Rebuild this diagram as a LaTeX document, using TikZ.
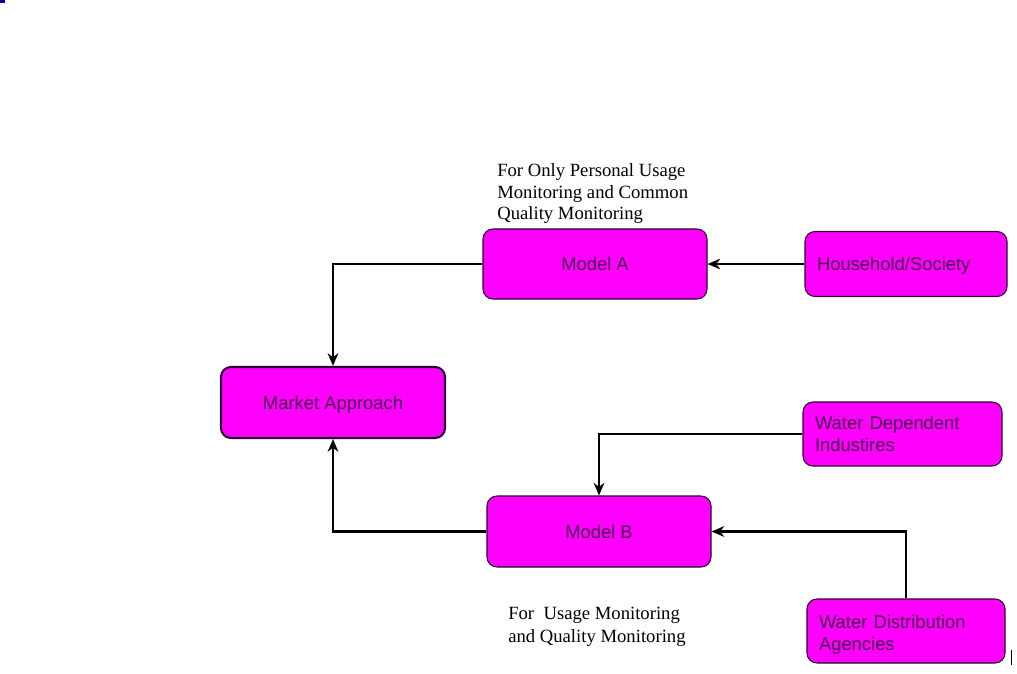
\documentclass[tikz,border=0pt]{standalone}
\usepackage{fontspec}
\setmainfont{Liberation Serif}
\setsansfont{Liberation Sans}
\usetikzlibrary{arrows.meta}

\definecolor{boxfill}{RGB}{255,0,255}
\definecolor{boxline}{RGB}{45,0,50}
\definecolor{boxtext}{RGB}{70,0,75}

\tikzset{
  modelbox/.style={draw=boxline, fill=boxfill, rounded corners=7.5pt, line width=0.8pt,
    text=boxtext, font=\sffamily\fontsize{13.8}{16.5}\selectfont, inner sep=0pt},
  sourcebox/.style={modelbox, align=left, text width=#1},
  flow/.style={line width=1.7pt, -{Stealth[length=9.5pt,width=8pt]}},
  note/.style={anchor=north west, inner sep=0pt, align=left, font=\fontsize{14}{16.2}\selectfont}
}

\begin{document}
\begin{tikzpicture}[x=0.75pt,y=0.75pt,yscale=-1,xscale=1]
            \useasboundingbox (0,0) rectangle (1017,674);
            %Shape: Rounded Rect [id:modelA] 
            \node [modelbox, minimum width=168pt, minimum height=52.5pt] (modelA) at (595,264) {Model A};
            %Shape: Rounded Rect [id:household] 
            \node [sourcebox=133.5pt, text depth=0pt, minimum width=151.5pt, minimum height=48.75pt] (household) at (906,264) {Household/Society};
            %Shape: Rounded Rect [id:market] 
            \node [modelbox, line width=1.6pt, text depth=0pt, minimum width=168pt, minimum height=53.25pt] (market) at (333,402.5) {Market Approach};
            %Shape: Rounded Rect [id:industries] 
            \node [sourcebox=131.25pt, minimum width=149.25pt, minimum height=48pt] (industries) at (902.5,434) {Water Dependent\\Industires};
            %Shape: Rounded Rect [id:modelB] 
            \node [modelbox, minimum width=168pt, minimum height=53.25pt] (modelB) at (599,531.5) {Model B};
            %Shape: Rounded Rect [id:agencies] 
            \node [sourcebox=130.5pt, text depth=14.2pt, minimum width=148.5pt, minimum height=48pt] (agencies) at (906,631) {Water Distribution\\Agencies};

            %Straight Lines [id:flows] 
            \draw [flow] (modelA.west) -| (market.north);
            \draw [flow] (household.west) -- (modelA.east);
            \draw [flow] (industries.west) -| (modelB.north);
            \draw [flow] (agencies.north) |- (modelB.east);
            \draw [flow] (modelB.west) -| (market.south);

            % Text Node
            \node [note] (noteA) at (497,163.5) {For Only Personal Usage\\Monitoring and Common\\Quality Monitoring};
            % Text Node
            \node [note, font=\fontsize{14}{17}\selectfont] (noteB) at (508,607) {For\ \ Usage Monitoring\\and Quality Monitoring};

            %Marks
            \fill [blue!70!black] (0,0) rectangle (5,3);
            \draw [line width=0.9pt] (1011.5,650) -- (1011.5,665);
\end{tikzpicture}
\end{document}
